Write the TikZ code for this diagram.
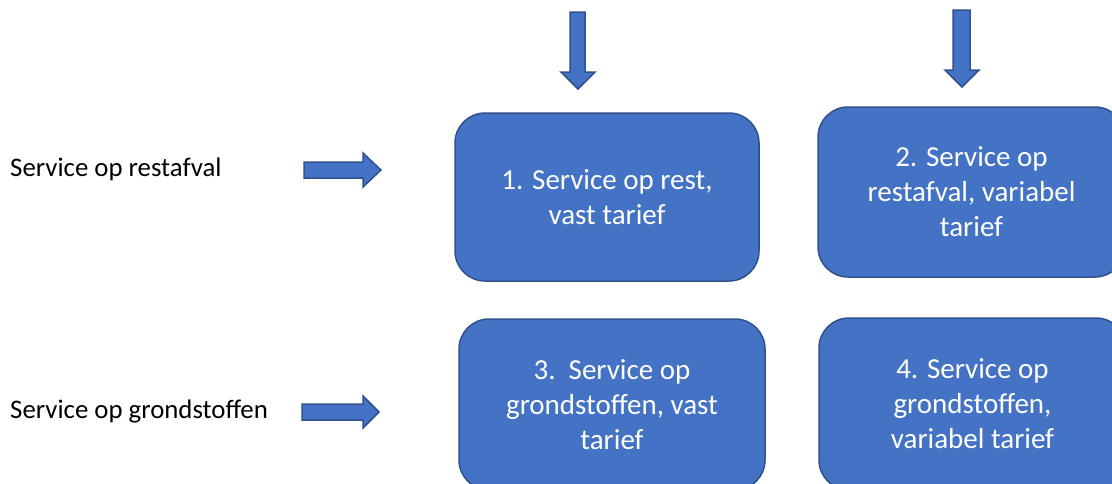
\documentclass[tikz,border=0pt]{standalone}
\usepackage{fontspec}
\setmainfont{Carlito}
\definecolor{boxfill}{HTML}{4472C4}
\definecolor{boxline}{HTML}{2F528F}
\begin{document}
\begin{tikzpicture}[x=1pt,y=-1pt,
  card/.style={draw=boxline, line width=1.5pt, fill=boxfill, rounded corners=30pt,
    text=white, align=center, font=\fontsize{29}{35}\selectfont, inner sep=0pt},
  blockarrow/.style={draw=boxline, line width=1.5pt, fill=boxfill, line join=miter},
  sidetext/.style={anchor=base west, inner sep=0pt, font=\fontsize{26.8}{32}\selectfont}
]
\useasboundingbox (0,0) rectangle (1112,483);
\clip (0,0) rectangle (1112,483);

\node[card, minimum width=304pt, minimum height=168pt] (b1) at (607,197) {1. Service op rest,\\vast tarief};
\node[card, minimum width=307pt, minimum height=170pt] (b2) at (971.5,192) {2. Service op\\restafval, variabel\\tarief};
\node[card, minimum width=306pt, minimum height=171pt] (b3) at (612,404.5) {3.\ \ Service op\\grondstoffen, vast\\tarief};
\node[card, minimum width=307pt, minimum height=172pt] (b4) at (972.5,404) {4. Service op\\grondstoffen,\\variabel tarief};

\node[sidetext] (t1) at (10,176) {Service op restafval};
\node[sidetext] (t2) at (10,418) {Service op grondstoffen};

\draw[blockarrow] (570,12) -- (585,12) -- (585,72) -- (595,72) -- (578,89) -- (561,72) -- (570,72) -- cycle;
\draw[blockarrow] (953,10) -- (970,10) -- (970,70) -- (979,70) -- (962,87) -- (945,70) -- (953,70) -- cycle;
\draw[blockarrow] (304,162) -- (363,162) -- (363,153) -- (381,170) -- (363,187) -- (363,178) -- (304,178) -- cycle;
\draw[blockarrow] (302,404) -- (363,404) -- (363,396) -- (379,412) -- (363,428) -- (363,420) -- (302,420) -- cycle;
\end{tikzpicture}
\end{document}
